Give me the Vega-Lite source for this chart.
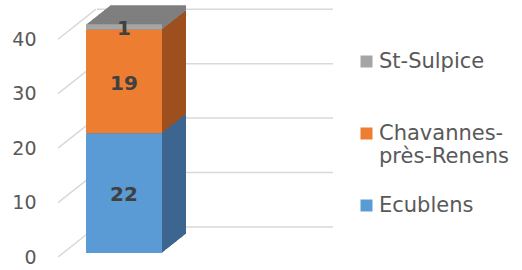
{
 "$schema": "https://vega.github.io/schema/vega-lite/v6.json",
 "width": 275, "height": 245,
 "autosize": {"type": "none"},
 "padding": {"left": 58, "top": 12, "right": 189, "bottom": 13},
 "background": "white",
 "config": {"view": {"stroke": null}, "font": "DejaVu Sans",
  "axisY": {"title": null, "domain": false, "ticks": false, "grid": false, "labelFontSize": 19, "labelColor": "#595959", "labelPadding": 22, "labelFont": "DejaVu Sans"}},
 "datasets": {
  "grid": [{"v": 0}, {"v": 10}, {"v": 20}, {"v": 30}, {"v": 40}],
  "bars": [
   {"cat": "Total", "series": "Ecublens", "value": 22, "order": 1},
   {"cat": "Total", "series": "Chavannes-près-Renens", "value": 19, "order": 2},
   {"cat": "Total", "series": "St-Sulpice", "value": 1, "order": 3}
  ]
 },
 "layer": [
  {"data": {"name": "grid"},
   "mark": {"type": "point", "shape": "M-1,0L1,0", "size": 55696, "filled": false, "stroke": "#d9d9d9", "strokeWidth": 1.5, "opacity": 1, "xOffset": 19.5, "yOffset": -30},
   "encoding": {"y": {"field": "v", "type": "quantitative", "scale": {"domain": [0, 45], "nice": false}, "title": null, "axis": {"values": [0, 10, 20, 30, 40]}}}},
  {"data": {"name": "grid"},
   "mark": {"type": "point", "shape": "M-1,0.79L1,-0.79", "size": 1444, "filled": false, "stroke": "#d9d9d9", "strokeWidth": 1.5, "opacity": 1, "xOffset": -118.5, "yOffset": -15},
   "encoding": {"y": {"field": "v", "type": "quantitative", "title": null, "axis": {"values": [0, 10, 20, 30, 40]}}}},
  {"data": {"name": "bars"},
   "encoding": {
    "x": {"field": "cat", "type": "nominal", "axis": null, "scale": {"paddingInner": 0.236, "paddingOuter": 1, "align": 0.1407}},
    "y": {"field": "value", "type": "quantitative", "stack": "zero", "title": null, "axis": {"values": [0, 10, 20, 30, 40]}},
    "order": {"field": "order", "type": "quantitative"},
    "detail": {"field": "series"}
   },
   "layer": [
    {"mark": {"type": "bar", "xOffset": 24, "x2Offset": 24, "yOffset": -22.96, "y2Offset": -22.96}, "encoding": {"fill": {"field": "order", "type": "ordinal", "scale": {"domain": [1, 2, 3], "range": ["#3d6690", "#9e501e", "#7f7f7f"]}, "legend": null}}},
    {"mark": {"type": "bar", "xOffset": 23, "x2Offset": 23, "yOffset": -22.17, "y2Offset": -22.17}, "encoding": {"fill": {"field": "order", "type": "ordinal", "legend": null}}},
    {"mark": {"type": "bar", "xOffset": 22, "x2Offset": 22, "yOffset": -21.38, "y2Offset": -21.38}, "encoding": {"fill": {"field": "order", "type": "ordinal", "legend": null}}},
    {"mark": {"type": "bar", "xOffset": 21, "x2Offset": 21, "yOffset": -20.59, "y2Offset": -20.59}, "encoding": {"fill": {"field": "order", "type": "ordinal", "legend": null}}},
    {"mark": {"type": "bar", "xOffset": 20, "x2Offset": 20, "yOffset": -19.8, "y2Offset": -19.8}, "encoding": {"fill": {"field": "order", "type": "ordinal", "legend": null}}},
    {"mark": {"type": "bar", "xOffset": 19, "x2Offset": 19, "yOffset": -19.01, "y2Offset": -19.01}, "encoding": {"fill": {"field": "order", "type": "ordinal", "legend": null}}},
    {"mark": {"type": "bar", "xOffset": 18, "x2Offset": 18, "yOffset": -18.22, "y2Offset": -18.22}, "encoding": {"fill": {"field": "order", "type": "ordinal", "legend": null}}},
    {"mark": {"type": "bar", "xOffset": 17, "x2Offset": 17, "yOffset": -17.43, "y2Offset": -17.43}, "encoding": {"fill": {"field": "order", "type": "ordinal", "legend": null}}},
    {"mark": {"type": "bar", "xOffset": 16, "x2Offset": 16, "yOffset": -16.64, "y2Offset": -16.64}, "encoding": {"fill": {"field": "order", "type": "ordinal", "legend": null}}},
    {"mark": {"type": "bar", "xOffset": 15, "x2Offset": 15, "yOffset": -15.85, "y2Offset": -15.85}, "encoding": {"fill": {"field": "order", "type": "ordinal", "legend": null}}},
    {"mark": {"type": "bar", "xOffset": 14, "x2Offset": 14, "yOffset": -15.06, "y2Offset": -15.06}, "encoding": {"fill": {"field": "order", "type": "ordinal", "legend": null}}},
    {"mark": {"type": "bar", "xOffset": 13, "x2Offset": 13, "yOffset": -14.27, "y2Offset": -14.27}, "encoding": {"fill": {"field": "order", "type": "ordinal", "legend": null}}},
    {"mark": {"type": "bar", "xOffset": 12, "x2Offset": 12, "yOffset": -13.48, "y2Offset": -13.48}, "encoding": {"fill": {"field": "order", "type": "ordinal", "legend": null}}},
    {"mark": {"type": "bar", "xOffset": 11, "x2Offset": 11, "yOffset": -12.69, "y2Offset": -12.69}, "encoding": {"fill": {"field": "order", "type": "ordinal", "legend": null}}},
    {"mark": {"type": "bar", "xOffset": 10, "x2Offset": 10, "yOffset": -11.9, "y2Offset": -11.9}, "encoding": {"fill": {"field": "order", "type": "ordinal", "legend": null}}},
    {"mark": {"type": "bar", "xOffset": 9, "x2Offset": 9, "yOffset": -11.11, "y2Offset": -11.11}, "encoding": {"fill": {"field": "order", "type": "ordinal", "legend": null}}},
    {"mark": {"type": "bar", "xOffset": 8, "x2Offset": 8, "yOffset": -10.32, "y2Offset": -10.32}, "encoding": {"fill": {"field": "order", "type": "ordinal", "legend": null}}},
    {"mark": {"type": "bar", "xOffset": 7, "x2Offset": 7, "yOffset": -9.53, "y2Offset": -9.53}, "encoding": {"fill": {"field": "order", "type": "ordinal", "legend": null}}},
    {"mark": {"type": "bar", "xOffset": 6, "x2Offset": 6, "yOffset": -8.74, "y2Offset": -8.74}, "encoding": {"fill": {"field": "order", "type": "ordinal", "legend": null}}},
    {"mark": {"type": "bar", "xOffset": 5, "x2Offset": 5, "yOffset": -7.95, "y2Offset": -7.95}, "encoding": {"fill": {"field": "order", "type": "ordinal", "legend": null}}},
    {"mark": {"type": "bar", "xOffset": 4, "x2Offset": 4, "yOffset": -7.16, "y2Offset": -7.16}, "encoding": {"fill": {"field": "order", "type": "ordinal", "legend": null}}},
    {"mark": {"type": "bar", "xOffset": 3, "x2Offset": 3, "yOffset": -6.37, "y2Offset": -6.37}, "encoding": {"fill": {"field": "order", "type": "ordinal", "legend": null}}},
    {"mark": {"type": "bar", "xOffset": 2, "x2Offset": 2, "yOffset": -5.58, "y2Offset": -5.58}, "encoding": {"fill": {"field": "order", "type": "ordinal", "legend": null}}},
    {"mark": {"type": "bar", "xOffset": 1, "x2Offset": 1, "yOffset": -4.79, "y2Offset": -4.79}, "encoding": {"fill": {"field": "order", "type": "ordinal", "legend": null}}},
    {"mark": {"type": "bar", "yOffset": -4, "y2Offset": -4},
     "encoding": {"color": {"field": "series", "type": "nominal",
      "scale": {"domain": ["St-Sulpice", "Chavannes-près-Renens", "Ecublens"], "range": ["#a5a5a5", "#ed7d31", "#5b9bd5"]},
      "legend": {"title": null, "orient": "none", "legendX": 298, "legendY": 39, "padding": 0,
       "symbolType": "square", "symbolSize": 144, "symbolStrokeWidth": 0, "symbolOpacity": 1,
       "labelFontSize": 21, "labelColor": "#595959", "labelFont": "DejaVu Sans", "labelOffset": 2, "labelLimit": 220,
       "labelExpr": "datum.label == 'Chavannes-près-Renens' ? ['Chavannes-', 'près-Renens'] : datum.label",
       "gridAlign": "all", "rowPadding": 27}}}}
   ]},
  {"data": {"name": "bars"},
   "mark": {"type": "text", "fontWeight": "bold", "fontSize": 20, "color": "#404040", "yOffset": -2, "font": "DejaVu Sans"},
   "encoding": {
    "x": {"field": "cat", "type": "nominal", "axis": null, "scale": {"paddingInner": 0.236, "paddingOuter": 1, "align": 0.1407}},
    "y": {"field": "value", "type": "quantitative", "stack": "zero", "bandPosition": 0.5, "title": null, "axis": {"values": [0, 10, 20, 30, 40]}},
    "order": {"field": "order", "type": "quantitative"},
    "detail": {"field": "series"},
    "text": {"field": "value", "type": "quantitative"}
   }}
 ]
}
